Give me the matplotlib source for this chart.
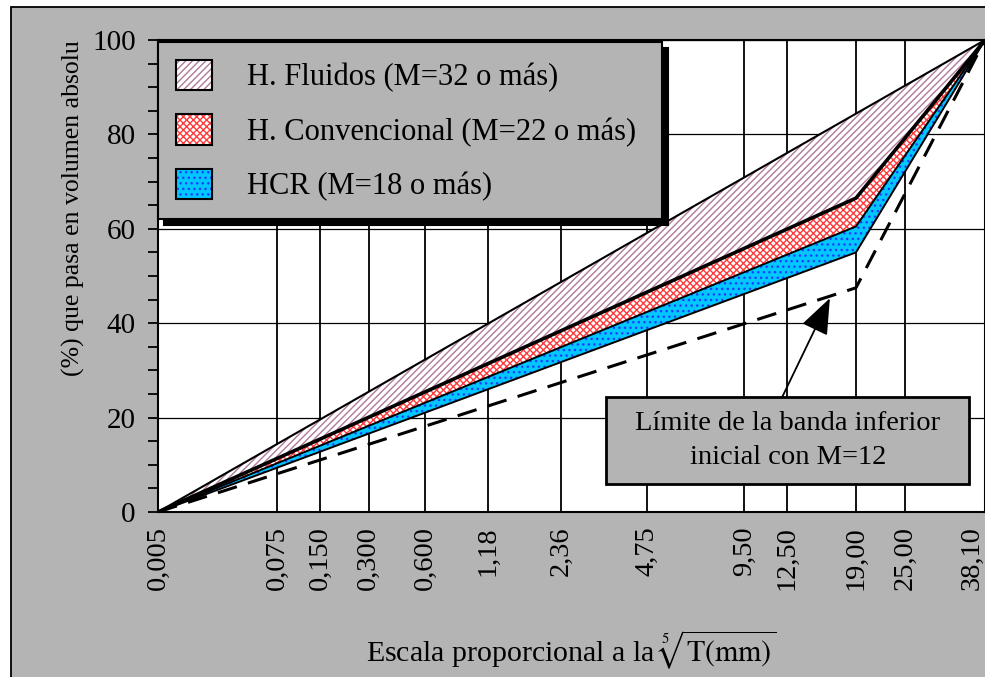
import matplotlib
matplotlib.use('Agg')
import matplotlib.pyplot as plt
from matplotlib.patches import Patch, Rectangle
from matplotlib.legend_handler import HandlerTuple
from matplotlib.ticker import FixedLocator, FixedFormatter, MultipleLocator
import numpy as np

plt.rcParams['font.family'] = ['Liberation Serif', 'DejaVu Serif']
plt.rcParams['mathtext.fontset'] = 'stix'
plt.rcParams['hatch.linewidth'] = 1.0

# ---- data ----
sieve_ticks = [0.005, 0.075, 0.150, 0.300, 0.600, 1.18, 2.36, 4.75, 9.50, 12.50, 19.00, 25.00, 38.10]
sieve_labels = ['0,005', '0,075', '0,150', '0,300', '0,600', '1,18', '2,36', '4,75',
                '9,50', '12,50', '19,00', '25,00', '38,10']
top_sizes = [0.005, 38.1]
top_pass = [0, 100]
sizes = [0.005, 19.0, 38.1]
fluidos_low = [0, 66.5, 100]
conv_low = [0, 60.5, 100]
hcr_low = [0, 55.0, 100]
limite_low = [0, 47.5, 100]
legend_labels = ['H. Fluidos (M=32 o más)', 'H. Convencional (M=22 o más)', 'HCR (M=18 o más)']
note_text = 'Límite de la banda inferior\ninicial con M=12'
arrow_tip = (16.3, 45.3)

GRAY = '#b4b4b4'
fl_face, fl_hatch, fl_hc = 'white', '/////', '#b27a9a'
cv_face, cv_hatch, cv_hc = 'white', 'xxxxx', '#ff3a3a'
hc_face, hc_hatch, hc_hc = '#00c8ff', '...', '#1f3fff'

fig = plt.figure(figsize=(9.85, 6.77), dpi=100)
fig.add_artist(Rectangle((10.5 / 985, -0.02), 1.0, 1 - 7 / 677 + 0.02, transform=fig.transFigure,
                         facecolor=GRAY, edgecolor='black', lw=1.3, zorder=-10))
ax = fig.add_axes([158 / 985, 165 / 677, 827 / 985, 472 / 677])
ax.set_facecolor('white')

fwd = lambda x: np.sign(x) * np.abs(x) ** 0.2
inv = lambda y: np.sign(y) * np.abs(y) ** 5
ax.set_xscale('function', functions=(fwd, inv))
ax.set_xlim(sieve_ticks[0], sieve_ticks[-1])
ax.set_ylim(0, 100)

# bands
ax.fill(np.r_[top_sizes, sizes[::-1]], np.r_[top_pass, fluidos_low[::-1]],
        facecolor=fl_face, edgecolor=fl_hc, hatch=fl_hatch, lw=0, zorder=2)
ax.fill(np.r_[sizes, sizes[::-1]], np.r_[fluidos_low, conv_low[::-1]],
        facecolor=cv_face, edgecolor=cv_hc, hatch=cv_hatch, lw=0, zorder=2)
ax.fill(np.r_[sizes, sizes[::-1]], np.r_[conv_low, hcr_low[::-1]],
        facecolor=hc_face, edgecolor=hc_hc, hatch=hc_hatch, lw=0, zorder=2)

ax.plot(top_sizes, top_pass, color='black', lw=1.5, zorder=3)
ax.plot(sizes, fluidos_low, color='black', lw=2.6, zorder=3)
ax.plot(sizes, conv_low, color='black', lw=1.4, zorder=3)
ax.plot(sizes, hcr_low, color='black', lw=1.4, zorder=3)
ax.plot(sizes, limite_low, color='black', lw=2.2, dashes=(6.5, 3.8), zorder=3)

# axes styling
ax.xaxis.set_major_locator(FixedLocator(sieve_ticks))
ax.xaxis.set_major_formatter(FixedFormatter(sieve_labels))
ax.xaxis.set_minor_locator(FixedLocator([]))
ax.yaxis.set_major_locator(MultipleLocator(20))
ax.yaxis.set_minor_locator(MultipleLocator(5))
ax.tick_params(axis='x', which='both', length=0, pad=10, labelsize=20.5, labelrotation=90)
ax.tick_params(axis='y', which='both', direction='out', length=7, width=1.3, labelsize=21, pad=9)
ax.set_axisbelow(True)
ax.grid(axis='x', color='black', lw=1.3)
ax.grid(axis='y', which='major', color='black', lw=0.9)
for s in ax.spines.values():
    s.set_linewidth(1.5)
fig.canvas.draw()
ax.get_xticklabels()[-1].set_horizontalalignment('right')

ax.set_xlabel(r'Escala proporcional a la $\sqrt[5]{\mathrm{T(mm)}}$', fontsize=21.5, labelpad=28)
ax.set_ylabel('(%) que pasa en volumen absolu', fontsize=18.5)
ax.yaxis.set_label_coords(-0.088, 0.644)

# legend
handles = [
    (Patch(facecolor=fl_face, edgecolor=fl_hc, hatch=fl_hatch, lw=0),
     Patch(facecolor='none', edgecolor='black', lw=1.5)),
    (Patch(facecolor=cv_face, edgecolor=cv_hc, hatch=cv_hatch, lw=0),
     Patch(facecolor='none', edgecolor='black', lw=1.5)),
    (Patch(facecolor=hc_face, edgecolor=hc_hc, hatch=hc_hatch, lw=0),
     Patch(facecolor='none', edgecolor='black', lw=1.5)),
]
leg = ax.legend(handles, legend_labels, handler_map={tuple: HandlerTuple(ndivide=1, pad=0)},
                loc='upper left', bbox_to_anchor=(0.0, 0, 0.61, 0.9958), mode='expand',
                borderaxespad=0, fontsize=22, handlelength=1.18, handleheight=1.15,
                handletextpad=1.15, labelspacing=0.72, borderpad=0.58, fancybox=False,
                edgecolor='black', facecolor=GRAY, framealpha=1,
                shadow={'color': 'black', 'alpha': 1, 'ox': 4, 'oy': -4})
leg.get_frame().set_linewidth(1.5)

# note box + arrow
ax.add_patch(Rectangle((0.5423, 0.0593), 0.4384, 0.1843, transform=ax.transAxes,
                       facecolor=GRAY, edgecolor='black', lw=2, zorder=6))
ax.text(0.7615, 0.1515, note_text, transform=ax.transAxes, ha='center', va='center',
        fontsize=20.5, linespacing=1.45, zorder=7)
ax.annotate('', xy=arrow_tip, xycoords='data', xytext=(0.7548, 0.2436), textcoords='axes fraction',
            arrowprops=dict(arrowstyle='-|>,head_length=0.9,head_width=0.35', color='black',
                            lw=1.3, mutation_scale=25, shrinkA=0, shrinkB=0), zorder=6)

fig.savefig('out.png', dpi=100)
